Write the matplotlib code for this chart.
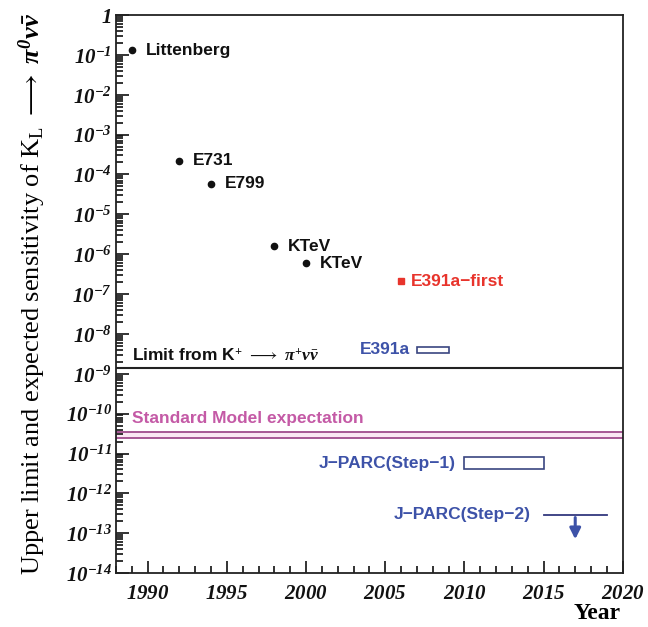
import matplotlib
matplotlib.use("Agg")
import matplotlib.pyplot as plt
from matplotlib.patches import Rectangle
from matplotlib.ticker import FixedLocator, LogLocator, MultipleLocator, NullFormatter

# tick numbers are bold italic serif; mathtext puts digits in "rm", so rm carries that style
plt.rcParams['mathtext.fontset'] = 'custom'
plt.rcParams['mathtext.rm'] = 'Liberation Serif:italic:bold'
plt.rcParams['mathtext.it'] = 'Liberation Serif:italic:bold'
plt.rcParams['mathtext.bf'] = 'Liberation Serif:bold'
plt.rcParams['mathtext.sf'] = 'Liberation Serif'
plt.rcParams['mathtext.fallback'] = 'stix'

# measured upper limits (year, branching ratio limit)
exp_names = ["Littenberg", "E731", "E799", "KTeV", "KTeV"]
exp_years = [1989, 1992, 1994, 1998, 2000]
exp_limits = [1.3e-1, 2.2e-4, 5.9e-5, 1.6e-6, 5.9e-7]

e391_first_year = 2006
e391_first_limit = 2.1e-7

# Grossman-Nir bound from K+ -> pi+ nu nubar
kplus_limit = 1.4e-9

# Standard Model band
sm_low, sm_high = 2.5e-11, 3.4e-11

# expected sensitivities: (year start, year end, low, high)
e391a_box = (2007, 2009, 3.4e-9, 4.6e-9)
jparc1_box = (2010, 2015, 4.1e-12, 8.1e-12)
jparc2_years = (2015, 2019)
jparc2_level = 2.9e-13
jparc2_arrow_year = 2017
jparc2_arrow_end = 6e-14

decades = list(range(0, -15, -1))

fig = plt.figure(figsize=(6.48, 6.27), dpi=100)
ax = fig.add_axes([0.179, 0.086, 0.782, 0.890])
ax.set_yscale('log')
ax.set_xlim(1988, 2020)
ax.set_ylim(1e-14, 1)

# y axis: decade ticks with italic labels
ax.yaxis.set_major_locator(FixedLocator([10.0 ** d for d in decades]))
ax.yaxis.set_major_formatter(plt.FixedFormatter(
    [r'$1$' if d == 0 else r'$10^{%d}$' % d for d in decades]))
ax.yaxis.set_minor_locator(LogLocator(base=10, subs=range(2, 10), numticks=100))
ax.yaxis.set_minor_formatter(NullFormatter())

ax.xaxis.set_major_locator(MultipleLocator(5))
ax.xaxis.set_minor_locator(MultipleLocator(1))
ax.xaxis.set_major_formatter(plt.FuncFormatter(lambda v, p: r'$%d$' % v))

ax.tick_params(which='both', direction='in', right=False, top=False, width=1.2, colors='#111111')
ax.tick_params(which='major', length=9)
ax.tick_params(which='minor', length=5)
ax.tick_params(axis='y', which='major', labelsize=15, pad=3)
ax.tick_params(axis='x', which='major', labelsize=15, pad=7)
for s in ax.spines.values():
    s.set_linewidth(1.3)
    s.set_color('#222222')

label_font = dict(family='Liberation Sans', fontweight='bold', fontsize=12.5)

# past experiments
ax.plot(exp_years, exp_limits, 'o', color='#111111', markersize=4.5)
for name, yr, lim in zip(exp_names, exp_years, exp_limits):
    ax.annotate(name, (yr, lim), xytext=(10, 0), textcoords='offset points',
                va='center', ha='left', color='#111111', **label_font)

ax.plot([e391_first_year], [e391_first_limit], 's', color='#e8342c', markersize=4.5)
ax.annotate('E391a\u2212first', (e391_first_year, e391_first_limit), xytext=(7, 0),
            textcoords='offset points', va='center', ha='left', color='#e8342c', **label_font)

# K+ limit
ax.axhline(kplus_limit, color='#222222', lw=1.5)
ax.text(1989, kplus_limit * 1.25, r'Limit from K$^{+}$ $\longrightarrow$ $\pi^{+}\nu\bar{\nu}$',
        va='bottom', ha='left', color='#111111', **label_font)

# Standard Model expectation
ax.axhspan(sm_low, sm_high, color='#fbe6f3', lw=0)
ax.axhline(sm_low, color='#a04a8c', lw=1.3)
ax.axhline(sm_high, color='#a04a8c', lw=1.3)
ax.text(1989, sm_high * 1.4, 'Standard Model expectation', va='bottom', ha='left',
        color='#c45aa6', **label_font)

# sensitivity boxes
blue = '#3d52a8'
box_edge = '#3a4580'
x0, x1, lo, hi = e391a_box
ax.add_patch(Rectangle((x0, lo), x1 - x0, hi - lo, fill=False, ec=box_edge, lw=1.2))
ax.annotate('E391a', (x0, (lo * hi) ** 0.5), xytext=(-5, 0), textcoords='offset points',
            va='center', ha='right', color=blue, **label_font)

x0, x1, lo, hi = jparc1_box
ax.add_patch(Rectangle((x0, lo), x1 - x0, hi - lo, fill=False, ec=box_edge, lw=1.2))
ax.annotate('J\u2212PARC(Step\u22121)', (x0, (lo * hi) ** 0.5), xytext=(-6, 0),
            textcoords='offset points', va='center', ha='right', color=blue, **label_font)

ax.plot(jparc2_years, [jparc2_level] * 2, color='#33387e', lw=1.3)
ax.annotate('', xy=(jparc2_arrow_year, jparc2_arrow_end), xytext=(jparc2_arrow_year, jparc2_level),
            arrowprops=dict(arrowstyle='-|>', color=blue, lw=2.2, mutation_scale=16))
ax.annotate('J\u2212PARC(Step\u22122)', (jparc2_years[0], jparc2_level), xytext=(-9, 0),
            textcoords='offset points', va='center', ha='right', color=blue, **label_font)

ax.set_ylabel(r'Upper limit and expected sensitivity of K$_{\mathsf{L}}$ $\longrightarrow$ $\pi^{0}\nu\bar{\nu}$',
              family='Liberation Serif', fontsize=19)
ax.yaxis.set_label_coords(-0.135, 0.5)
fig.text(0.921, 0.022, 'Year', family='Liberation Serif', fontweight='bold', fontsize=17,
         ha='center', va='center')

fig.savefig('out.png', dpi=100)
